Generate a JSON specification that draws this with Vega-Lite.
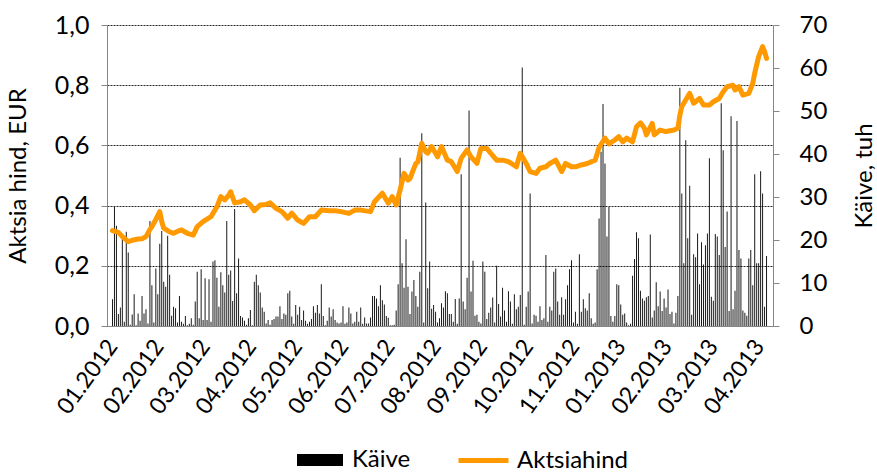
{
  "$schema": "https://vega.github.io/schema/vega-lite/v6.json",
  "width": 666,
  "height": 301,
  "autosize": "none",
  "padding": {"left": 107, "top": 25, "right": 104, "bottom": 150},
  "background": "white",
  "config": {
    "font": "Lato",
    "view": {"stroke": null},
    "axis": {"labelFont": "Lato", "titleFont": "Lato", "labelColor": "#000", "titleColor": "#000", "titleFontWeight": "normal"},
    "legend": {"labelFont": "Lato", "labelColor": "#000", "padding": 0}
  },
  "datasets": {
    "vol": [
      {"d":0,"v":6.2},{"d":1,"v":27.7},{"d":2,"v":23.3},{"d":3,"v":2.8},{"d":4,"v":4.3},{"d":5,"v":20.4},{"d":6,"v":1},{"d":7,"v":21.9},{"d":8,"v":17.1},{"d":9,"v":0.3},
      {"d":10,"v":2.7},{"d":11,"v":7.4},{"d":12,"v":0.2},{"d":13,"v":2.9},{"d":14,"v":1.2},{"d":15,"v":7},{"d":16,"v":2.9},{"d":17,"v":3.9},{"d":18,"v":0.6},{"d":19,"v":24.4},
      {"d":20,"v":9.5},{"d":21,"v":0.8},{"d":22,"v":13.4},{"d":23,"v":7.4},{"d":24,"v":19.1},{"d":25,"v":22.1},{"d":26,"v":10.3},{"d":27,"v":9.1},{"d":28,"v":21},{"d":29,"v":11.9},
      {"d":30,"v":2.4},{"d":31,"v":4.5},{"d":32,"v":4.1},{"d":33,"v":0.8},{"d":34,"v":7},{"d":35,"v":1},{"d":36,"v":0.5},{"d":37,"v":2.3},{"d":38,"v":0.2},{"d":39,"v":0.5},
      {"d":40,"v":1.8},{"d":41,"v":0.3},{"d":42,"v":5.7},{"d":43,"v":12.6},{"d":44,"v":1.8},{"d":45,"v":13.2},{"d":46,"v":1.4},{"d":47,"v":11.1},{"d":48,"v":1.4},{"d":49,"v":10.9},
      {"d":50,"v":1},{"d":51,"v":15},{"d":52,"v":15.3},{"d":53,"v":11.2},{"d":54,"v":4.5},{"d":55,"v":12.5},{"d":56,"v":9.5},{"d":57,"v":7.8},{"d":58,"v":24.4},{"d":59,"v":11.9},
      {"d":60,"v":12.9},{"d":61,"v":5.8},{"d":62,"v":27.2},{"d":63,"v":7.6},{"d":64,"v":15.7},{"d":65,"v":2.3},{"d":66,"v":2},{"d":67,"v":1.2},{"d":68,"v":0.3},{"d":69,"v":1.8},
      {"d":70,"v":3.7},{"d":71,"v":0.2},{"d":72,"v":10.3},{"d":73,"v":11.9},{"d":74,"v":9.5},{"d":75,"v":7.8},{"d":76,"v":4.3},{"d":77,"v":3.3},{"d":78,"v":0.6},{"d":79,"v":1.4},
      {"d":80,"v":0.3},{"d":81,"v":1.4},{"d":82,"v":1.6},{"d":83,"v":2.2},{"d":84,"v":2.2},{"d":85,"v":4.6},{"d":86,"v":1.6},{"d":87,"v":2.9},{"d":88,"v":2.6},{"d":89,"v":7.6},
      {"d":90,"v":8.2},{"d":91,"v":2.2},{"d":92,"v":0.5},{"d":93,"v":4.9},{"d":94,"v":2.6},{"d":95,"v":4.5},{"d":96,"v":1.4},{"d":97,"v":3.6},{"d":98,"v":1.2},{"d":99,"v":0.5},
      {"d":100,"v":1},{"d":101,"v":1.6},{"d":102,"v":4.6},{"d":103,"v":3.1},{"d":104,"v":4.9},{"d":105,"v":2.9},{"d":106,"v":9.7},{"d":107,"v":2.3},{"d":108,"v":0.2},{"d":109,"v":1.2},
      {"d":110,"v":4.3},{"d":111,"v":2.2},{"d":112,"v":3.9},{"d":113,"v":1.4},{"d":114,"v":0.8},{"d":115,"v":0.6},{"d":116,"v":0.8},{"d":117,"v":4.6},{"d":118,"v":0.5},{"d":119,"v":0.8},
      {"d":120,"v":4.3},{"d":121,"v":2.9},{"d":122,"v":0.6},{"d":123,"v":1},{"d":124,"v":3.3},{"d":125,"v":1},{"d":126,"v":4.3},{"d":127,"v":0.5},{"d":128,"v":2},{"d":129,"v":0.6},
      {"d":130,"v":0.6},{"d":131,"v":2},{"d":132,"v":7},{"d":133,"v":7},{"d":134,"v":6.4},{"d":135,"v":4.6},{"d":136,"v":9.5},{"d":137,"v":6},{"d":138,"v":5},{"d":139,"v":2.3},
      {"d":140,"v":1.9},{"d":141,"v":0.2},{"d":142,"v":0.2},{"d":143,"v":0.3},{"d":144,"v":3.6},{"d":145,"v":9.7},{"d":146,"v":39.1},{"d":147,"v":14.6},{"d":148,"v":8.9},{"d":149,"v":20.2},
      {"d":150,"v":9.1},{"d":151,"v":2.8},{"d":152,"v":8},{"d":153,"v":10.7},{"d":154,"v":7},{"d":155,"v":4.5},{"d":156,"v":12.6},{"d":157,"v":44.8},{"d":158,"v":0.8},{"d":159,"v":28.7},
      {"d":160,"v":8.8},{"d":161,"v":15},{"d":162,"v":4},{"d":163,"v":4.9},{"d":164,"v":3.3},{"d":165,"v":0.8},{"d":166,"v":1.8},{"d":167,"v":5.3},{"d":168,"v":4.3},{"d":169,"v":8.1},
      {"d":170,"v":7.6},{"d":171,"v":2.8},{"d":172,"v":2.8},{"d":173,"v":1},{"d":174,"v":6.3},{"d":175,"v":0.5},{"d":176,"v":6.4},{"d":177,"v":35.3},{"d":178,"v":5.7},{"d":179,"v":3.9},
      {"d":180,"v":11.2},{"d":181,"v":50.1},{"d":182,"v":8},{"d":183,"v":15.2},{"d":184,"v":2.4},{"d":185,"v":2.6},{"d":186,"v":1},{"d":187,"v":0.6},{"d":188,"v":15},{"d":189,"v":12.6},
      {"d":190,"v":1.6},{"d":191,"v":3.1},{"d":192,"v":4.3},{"d":193,"v":6.6},{"d":194,"v":0.8},{"d":195,"v":14},{"d":196,"v":5.1},{"d":197,"v":2.2},{"d":198,"v":8.9},{"d":199,"v":3.6},
      {"d":200,"v":1},{"d":201,"v":8.1},{"d":202,"v":5.7},{"d":203,"v":0.5},{"d":204,"v":7.4},{"d":205,"v":3.9},{"d":206,"v":4.5},{"d":207,"v":7.2},{"d":208,"v":60.1},{"d":209,"v":0.3},
      {"d":210,"v":4.5},{"d":211,"v":8},{"d":212,"v":30.8},{"d":213,"v":0.6},{"d":214,"v":2.6},{"d":215,"v":2.4},{"d":216,"v":1},{"d":217,"v":4.6},{"d":218,"v":1.4},{"d":219,"v":1.8},
      {"d":220,"v":16.5},{"d":221,"v":1},{"d":222,"v":4.5},{"d":223,"v":3.6},{"d":224,"v":12.6},{"d":225,"v":13.4},{"d":226,"v":5.7},{"d":227,"v":2.6},{"d":228,"v":6.7},{"d":229,"v":2.6},
      {"d":230,"v":6.2},{"d":231,"v":9.5},{"d":232,"v":13.2},{"d":233,"v":15.3},{"d":234,"v":0.8},{"d":235,"v":3.3},{"d":236,"v":0.5},{"d":237,"v":16.7},{"d":238,"v":3.3},{"d":239,"v":6.2},
      {"d":240,"v":4.1},{"d":241,"v":3.6},{"d":242,"v":7.6},{"d":243,"v":1.8},{"d":244,"v":0.5},{"d":245,"v":0.8},{"d":246,"v":13.2},{"d":247,"v":25},{"d":248,"v":40.5},{"d":249,"v":51.6},
      {"d":250,"v":37.8},{"d":251,"v":20.8},{"d":252,"v":27.7},{"d":253,"v":2.3},{"d":254,"v":1},{"d":255,"v":2.3},{"d":256,"v":9.7},{"d":257,"v":9.5},{"d":258,"v":5},{"d":259,"v":2.6},
      {"d":260,"v":2.9},{"d":261,"v":0.8},{"d":262,"v":0.2},{"d":263,"v":0.5},{"d":264,"v":11.7},{"d":265,"v":15.6},{"d":266,"v":21.8},{"d":267,"v":20.4},{"d":268,"v":8.2},{"d":269,"v":6.4},
      {"d":270,"v":5.9},{"d":271,"v":6.7},{"d":272,"v":7},{"d":273,"v":21.3},{"d":274,"v":2},{"d":275,"v":3.6},{"d":276,"v":10.2},{"d":277,"v":4.6},{"d":278,"v":8},{"d":279,"v":3.5},
      {"d":280,"v":6.4},{"d":281,"v":4.3},{"d":282,"v":8.5},{"d":283,"v":2.8},{"d":284,"v":3.3},{"d":285,"v":0.6},{"d":286,"v":3.1},{"d":287,"v":7},{"d":288,"v":55.4},{"d":289,"v":30.8},
      {"d":290,"v":14.6},{"d":291,"v":43.2},{"d":292,"v":20.4},{"d":293,"v":32.6},{"d":294,"v":2.6},{"d":295,"v":16.7},{"d":296,"v":16},{"d":297,"v":21.5},{"d":298,"v":9.7},{"d":299,"v":19.5},
      {"d":300,"v":14.3},{"d":301,"v":18.8},{"d":302,"v":21.5},{"d":303,"v":39},{"d":304,"v":6.8},{"d":305,"v":5.9},{"d":306,"v":21.4},{"d":307,"v":20.8},{"d":308,"v":16.5},{"d":309,"v":51.8},
      {"d":310,"v":40.9},{"d":311,"v":18.4},{"d":312,"v":26.6},{"d":313,"v":3.5},{"d":314,"v":48.8},{"d":315,"v":3.9},{"d":316,"v":8.2},{"d":317,"v":47.7},{"d":318,"v":17.7},{"d":319,"v":15.7},
      {"d":320,"v":3.6},{"d":321,"v":3.1},{"d":322,"v":2.4},{"d":323,"v":15.7},{"d":324,"v":17.7},{"d":325,"v":9.5},{"d":326,"v":35.3},{"d":327,"v":14.6},{"d":328,"v":14.6},{"d":329,"v":36},
      {"d":330,"v":30.8},{"d":331,"v":4.5},{"d":332,"v":16.3}
    ],
    "price": [
      {"d":0,"p":0.317},{"d":3,"p":0.311},{"d":5,"p":0.297},{"d":8,"p":0.28},{"d":10,"p":0.285},{"d":13,"p":0.289},{"d":15,"p":0.29},{"d":17,"p":0.297},{"d":19,"p":0.321},{"d":20,"p":0.33},
      {"d":22,"p":0.354},{"d":24,"p":0.38},{"d":25,"p":0.347},{"d":26,"p":0.325},{"d":29,"p":0.313},{"d":31,"p":0.308},{"d":34,"p":0.317},{"d":35,"p":0.319},{"d":38,"p":0.308},{"d":41,"p":0.302},
      {"d":43,"p":0.33},{"d":46,"p":0.347},{"d":50,"p":0.363},{"d":53,"p":0.396},{"d":55,"p":0.43},{"d":57,"p":0.419},{"d":59,"p":0.435},{"d":60,"p":0.446},{"d":62,"p":0.409},{"d":65,"p":0.413},
      {"d":67,"p":0.419},{"d":70,"p":0.402},{"d":72,"p":0.383},{"d":75,"p":0.402},{"d":78,"p":0.404},{"d":80,"p":0.409},{"d":83,"p":0.391},{"d":86,"p":0.38},{"d":89,"p":0.358},{"d":91,"p":0.375},
      {"d":94,"p":0.352},{"d":97,"p":0.341},{"d":100,"p":0.363},{"d":103,"p":0.363},{"d":106,"p":0.385},{"d":110,"p":0.383},{"d":113,"p":0.383},{"d":116,"p":0.38},{"d":120,"p":0.374},{"d":123,"p":0.385},
      {"d":126,"p":0.385},{"d":131,"p":0.38},{"d":133,"p":0.413},{"d":137,"p":0.441},{"d":140,"p":0.408},{"d":142,"p":0.43},{"d":144,"p":0.402},{"d":146,"p":0.452},{"d":148,"p":0.507},{"d":150,"p":0.485},
      {"d":151,"p":0.49},{"d":154,"p":0.54},{"d":155,"p":0.545},{"d":157,"p":0.607},{"d":159,"p":0.579},{"d":160,"p":0.574},{"d":162,"p":0.596},{"d":165,"p":0.562},{"d":167,"p":0.596},{"d":170,"p":0.551},
      {"d":172,"p":0.546},{"d":175,"p":0.513},{"d":177,"p":0.557},{"d":180,"p":0.585},{"d":182,"p":0.562},{"d":185,"p":0.54},{"d":187,"p":0.59},{"d":190,"p":0.59},{"d":192,"p":0.574},{"d":195,"p":0.551},
      {"d":198,"p":0.551},{"d":201,"p":0.546},{"d":205,"p":0.529},{"d":207,"p":0.574},{"d":210,"p":0.54},{"d":212,"p":0.513},{"d":215,"p":0.507},{"d":217,"p":0.524},{"d":220,"p":0.529},{"d":222,"p":0.54},
      {"d":225,"p":0.551},{"d":228,"p":0.513},{"d":230,"p":0.54},{"d":233,"p":0.529},{"d":235,"p":0.529},{"d":238,"p":0.535},{"d":241,"p":0.54},{"d":245,"p":0.551},{"d":247,"p":0.593},{"d":250,"p":0.624},
      {"d":252,"p":0.605},{"d":255,"p":0.618},{"d":257,"p":0.629},{"d":259,"p":0.612},{"d":261,"p":0.624},{"d":264,"p":0.612},{"d":266,"p":0.662},{"d":268,"p":0.675},{"d":270,"p":0.657},{"d":271,"p":0.635},
      {"d":274,"p":0.673},{"d":275,"p":0.635},{"d":278,"p":0.651},{"d":281,"p":0.646},{"d":285,"p":0.651},{"d":287,"p":0.657},{"d":288,"p":0.7},{"d":289,"p":0.729},{"d":290,"p":0.74},{"d":293,"p":0.773},
      {"d":295,"p":0.74},{"d":298,"p":0.756},{"d":300,"p":0.734},{"d":303,"p":0.734},{"d":305,"p":0.745},{"d":308,"p":0.756},{"d":310,"p":0.778},{"d":312,"p":0.795},{"d":315,"p":0.8},{"d":316,"p":0.784},
      {"d":318,"p":0.795},{"d":320,"p":0.767},{"d":323,"p":0.773},{"d":325,"p":0.806},{"d":326,"p":0.84},{"d":328,"p":0.895},{"d":330,"p":0.928},{"d":331,"p":0.912},{"d":332,"p":0.889}
    ]
  },
  "layer": [
    {
      "data": {"name": "vol"},
      "mark": {"type": "bar", "size": 1, "opacity": 0.9},
      "encoding": {
        "x": {
          "field": "d", "type": "quantitative",
          "scale": {"domain": [-0.25, 332.75], "nice": false, "zero": false},
          "axis": {
            "orient": "bottom", "title": null, "grid": false, "ticks": false,
            "domainColor": "#868686", "domainWidth": 1,
            "values": [0, 23.45, 46.9, 70.35, 93.8, 117.25, 140.7, 164.15, 187.6, 211.05, 234.5, 257.95, 281.4, 304.85, 328.3],
            "labelExpr": "['01.2012','02.2012','03.2012','04.2012','05.2012','06.2012','07.2012','08.2012','09.2012','10.2012','11.2012','01.2013','02.2013','03.2013','04.2013'][round(datum.value/23.45)]",
            "labelAngle": -54, "labelAlign": "right", "labelBaseline": "middle",
            "labelFontSize": 23, "labelPadding": 16, "labelOverlap": false, "labelBound": false, "labelFlush": false
          }
        },
        "y": {
          "field": "v", "type": "quantitative",
          "scale": {"domain": [0, 70], "nice": false},
          "axis": {
            "orient": "right", "title": "Käive, tuh", "titleAngle": 270, "titleFontSize": 24, "titlePadding": 50,
            "values": [0, 10, 20, 30, 40, 50, 60, 70], "grid": false,
            "domainColor": "#868686", "tickColor": "#868686", "tickSize": 6,
            "labelFontSize": 24, "labelPadding": 20, "labelAlign": "left"
          }
        },
        "fill": {
          "datum": "Käive", "type": "nominal",
          "scale": {"range": ["#000000"]},
          "legend": {
            "title": null, "orient": "none", "legendX": 190, "legendY": 412, "direction": "horizontal",
            "symbolType": "M-1,-0.26H1V0.26H-1Z", "symbolSize": 2116, "symbolStrokeWidth": 0, "symbolOpacity": 1,
            "labelFontSize": 24, "labelOffset": 9
          }
        }
      }
    },
    {
      "data": {"name": "price"},
      "mark": {"type": "line", "strokeWidth": 5, "strokeJoin": "round", "strokeCap": "round"},
      "encoding": {
        "x": {"field": "d", "type": "quantitative"},
        "y": {
          "field": "p", "type": "quantitative",
          "scale": {"domain": [0, 1], "nice": false},
          "axis": {
            "orient": "left", "title": "Aktsia hind, EUR", "titleFontSize": 24, "titlePadding": 24,
            "values": [0, 0.2, 0.4, 0.6, 0.8, 1],
            "labelExpr": "replace(format(datum.value, '.1f'), '.', ',')",
            "grid": true, "gridColor": "#000", "gridDash": [2, 1], "gridWidth": 1, "gridOpacity": 0.85,
            "domainColor": "#868686", "tickColor": "#868686", "tickSize": 6,
            "labelFontSize": 25, "labelPadding": 12
          }
        },
        "stroke": {
          "datum": "Aktsiahind", "type": "nominal",
          "scale": {"range": ["#FF9900"]},
          "legend": {
            "title": null, "orient": "none", "legendX": 349, "legendY": 408, "direction": "horizontal",
            "symbolType": "stroke", "symbolSize": 2500, "symbolStrokeWidth": 5,
            "labelFontSize": 24, "labelOffset": 6
          }
        }
      }
    }
  ],
  "resolve": {"scale": {"y": "independent", "fill": "independent", "stroke": "independent"}}
}
